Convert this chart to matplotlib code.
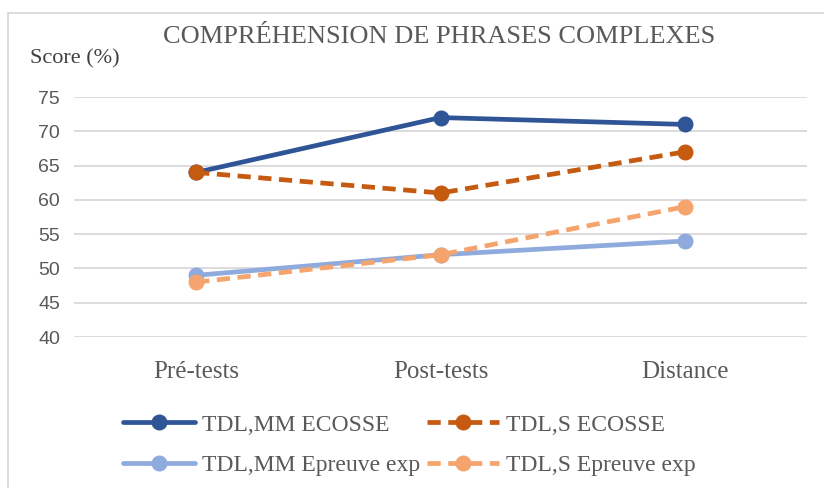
import matplotlib.pyplot as plt
from matplotlib.patches import Rectangle

categories = ["Pré-tests", "Post-tests", "Distance"]
mm_ecosse = [64, 72, 71]
s_ecosse = [64, 61, 67]
mm_exp = [49, 52, 54]
s_exp = [48, 52, 59]
labels = ["TDL,MM ECOSSE", "TDL,S ECOSSE", "TDL,MM Epreuve exp", "TDL,S Epreuve exp"]
y_ticks = [40, 45, 50, 55, 60, 65, 70, 75]

W, H = 824, 488
fig = plt.figure(figsize=(W / 100, H / 100), dpi=100)
ax = fig.add_axes([74 / W, 1 - 337 / H, (807 - 74) / W, (337 - 97) / H])

# cadre du graphique (coupe a droite et en bas)
fig.patches.append(Rectangle((8 / W, -0.1), 1.2, 1 - 13 / H + 0.1, transform=fig.transFigure,
                             fill=False, edgecolor="#D9D9D9", linewidth=1.3))

x = range(len(categories))
dash = (2.8, 1.6)
l1, = ax.plot(x, mm_ecosse, color="#2F5597", lw=3.4, marker="o", ms=10.5, label=labels[0],
              solid_capstyle="round")
l2, = ax.plot(x, s_ecosse, color="#C55A11", lw=3.4, marker="o", ms=10.5, label=labels[1],
              dashes=dash)
l3, = ax.plot(x, mm_exp, color="#8FAADC", lw=3.4, marker="o", ms=10.5, label=labels[2],
              solid_capstyle="round")
l4, = ax.plot(x, s_exp, color="#F4A46C", lw=3.4, marker="o", ms=10.5, label=labels[3],
              dashes=dash)

ax.set_xlim(-0.5, 2.5)
ax.set_ylim(40, 75)
ax.set_yticks(y_ticks)
ax.set_yticklabels([str(v) for v in y_ticks], fontfamily="Liberation Sans", fontsize=14,
                   color="#595959")
ax.set_xticks(list(x))
ax.set_xticklabels(categories, fontfamily="Liberation Serif", fontsize=18, color="#595959")
ax.tick_params(axis="both", length=0)
ax.tick_params(axis="y", pad=10)
ax.tick_params(axis="x", pad=17)
ax.grid(axis="y", color="#D9D9D9", lw=1.3)
ax.set_axisbelow(True)
for s in ax.spines.values():
    s.set_visible(False)

fig.text(439 / W, 1 - 37 / H, "COMPRÉHENSION DE PHRASES COMPLEXES", ha="center", va="center",
         fontfamily="Liberation Serif", fontsize=19, color="#595959")
fig.text(30 / W, 1 - 59 / H, "Score (%)", ha="left", va="center",
         fontfamily="Liberation Serif", fontsize=16, color="#404040")

# ordre en colonnes pour avoir ECOSSE sur la premiere ligne
fig.legend([l1, l3, l2, l4], [labels[0], labels[2], labels[1], labels[3]],
           loc="upper left", bbox_to_anchor=(123 / W, 1 - 414 / H), ncol=2, frameon=False,
           prop={"family": "Liberation Serif", "size": 17}, labelcolor="#595959",
           handlelength=3.05, handletextpad=0.3, columnspacing=0.3, labelspacing=0.82,
           borderaxespad=0, borderpad=0)

fig.savefig("out.png", dpi=100)
